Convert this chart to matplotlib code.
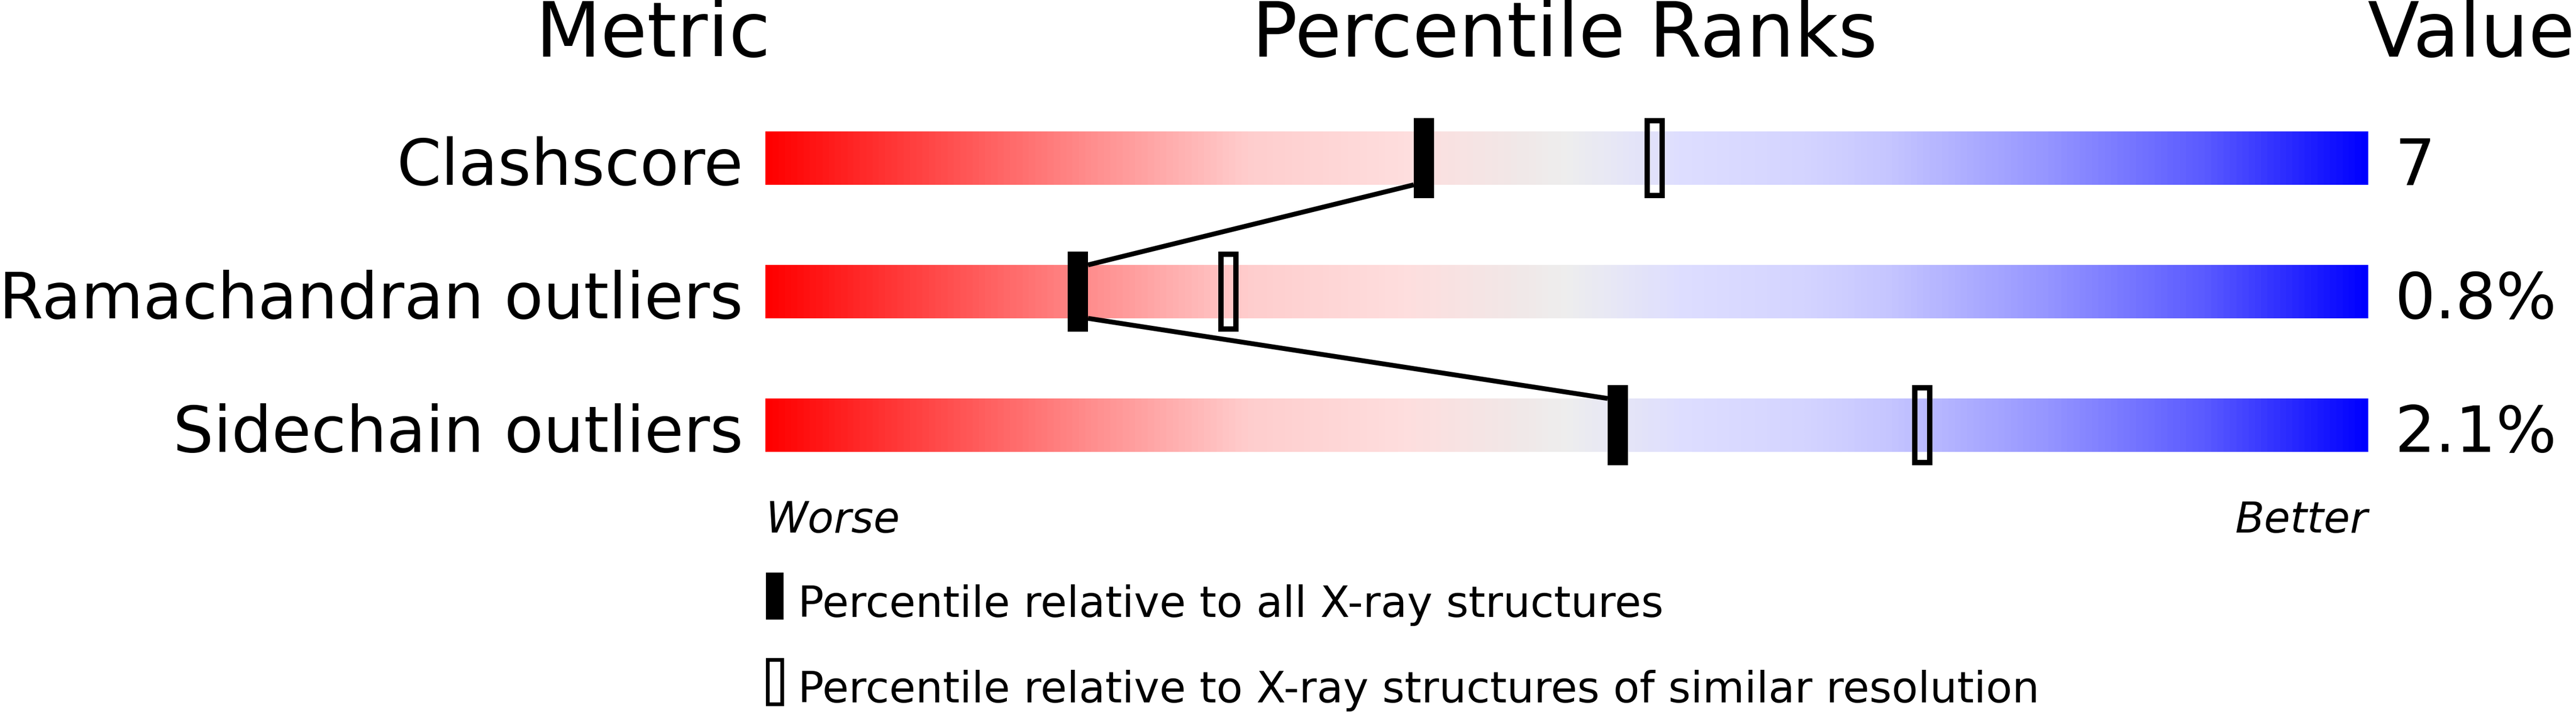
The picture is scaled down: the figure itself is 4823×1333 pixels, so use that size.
import numpy as np
import matplotlib
matplotlib.use("Agg")
import matplotlib.pyplot as plt
from matplotlib.colors import LinearSegmentedColormap
from matplotlib.patches import Rectangle

# data
metrics = ["Clashscore", "Ramachandran outliers", "Sidechain outliers"]
values = ["7", "0.8%", "2.1%"]
pct_all = [41.1, 19.5, 53.2]       # percentile vs all X-ray structures
pct_similar = [55.5, 28.9, 72.2]   # percentile vs similar resolution
legend_labels = ["Percentile relative to all X-ray structures",
                 "Percentile relative to X-ray structures of similar resolution"]

# layout (pixels)
W, H = 4823, 1333
BAR_X0, BAR_X1 = 1433, 4433
SCALE = (BAR_X1 - BAR_X0) / 100.0
ROW_TOP0, ROW_STEP, BAR_H = 246, 250, 100


def px(x):
    return (x - BAR_X0) / SCALE


stops = [
    (0.00, (255, 0, 0)),
    (0.10, (255, 70, 70)),
    (0.20, (255, 140, 140)),
    (0.30, (255, 205, 205)),
    (0.40, (254, 222, 222)),
    (0.47, (241, 232, 232)),
    (0.50, (238, 238, 238)),
    (0.57, (222, 222, 255)),
    (0.65, (212, 212, 255)),
    (0.70, (198, 198, 255)),
    (0.80, (150, 150, 255)),
    (0.90, (90, 90, 255)),
    (1.00, (0, 0, 255)),
]
cmap = LinearSegmentedColormap.from_list(
    "slider", [(p, tuple(c / 255 for c in rgb)) for p, rgb in stops])

fig = plt.figure(figsize=(W / 100, H / 100), dpi=100)
ax = fig.add_axes([0, 0, 1, 1])
ax.set_xlim(px(0), px(W))
ax.set_ylim(H, 0)
ax.axis("off")

grad = np.linspace(0, 1, 1000).reshape(1, -1)
hw = 19 / SCALE
tops = [ROW_TOP0 + ROW_STEP * i for i in range(len(metrics))]

for i, name in enumerate(metrics):
    top = tops[i]
    ax.imshow(grad, cmap=cmap, aspect="auto", interpolation="bilinear",
              extent=[0, 100, top + BAR_H, top], zorder=1)
    ax.text(px(1391), top + BAR_H, name, ha="right", va="baseline", fontsize=86)
    ax.text(px(4483), top + BAR_H, values[i], ha="left", va="baseline", fontsize=86)
    # similar-resolution marker (open)
    ax.add_patch(Rectangle((pct_similar[i] - 14 / SCALE, top - 20), 28 / SCALE, BAR_H + 40,
                           facecolor="none", edgecolor="black", lw=7.2, zorder=4))
    # all-structures marker (filled)
    ax.add_patch(Rectangle((pct_all[i] - hw, top - 25), 2 * hw, BAR_H + 50,
                           facecolor="black", edgecolor="none", zorder=5))

# connecting line between filled markers
for i in range(len(metrics) - 1):
    a, b = pct_all[i], pct_all[i + 1]
    if b < a:
        xs = [a - hw, b + hw]
    else:
        xs = [a + hw, b - hw]
    ax.plot(xs, [tops[i] + BAR_H, tops[i + 1]], color="black", lw=6.5,
            solid_capstyle="butt", zorder=3)

# headers
ax.text(px(1442), 106, "Metric", ha="right", va="baseline", fontsize=102)
ax.text(49.9, 106, "Percentile Ranks", ha="center", va="baseline", fontsize=102)
ax.text(px(4433), 106, "Value", ha="left", va="baseline", fontsize=102)

ax.text(0, 997, "Worse", ha="left", va="baseline", fontsize=57.5, style="italic")
ax.text(100, 997, "Better", ha="right", va="baseline", fontsize=57.5, style="italic")

# legend
ax.add_patch(Rectangle((px(1434), 1072), 33 / SCALE, 88, facecolor="black",
                       edgecolor="none", clip_on=False))
ax.text(px(1494), 1155, legend_labels[0], ha="left", va="baseline", fontsize=58)
ax.add_patch(Rectangle((px(1437), 1235), 27 / SCALE, 83, facecolor="none",
                       edgecolor="black", lw=5, clip_on=False))
ax.text(px(1494), 1315, legend_labels[1], ha="left", va="baseline", fontsize=58)

fig.savefig("out.png", dpi=100, facecolor="white")
